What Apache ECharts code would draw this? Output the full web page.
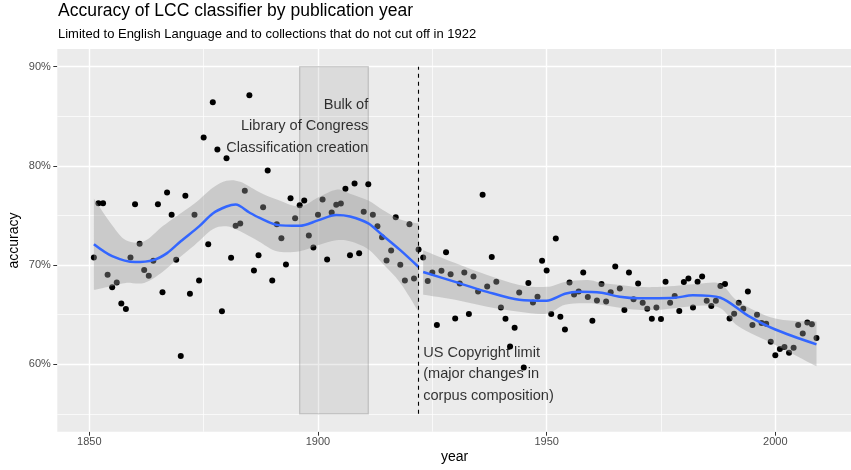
<!DOCTYPE html>
<html>
<head>
<meta charset="utf-8">
<script src="https://cdn.jsdelivr.net/npm/echarts@6/dist/echarts.min.js"></script>
<style>
html,body{margin:0;padding:0;background:#fff;}
#chart{width:851px;height:470px;}
</style>
</head>
<body>
<div id="chart"></div>
<script>
// ---- data ----
const years = [];
for (let y = 1851; y <= 2009; y++) years.push(y);
const accuracy = [
70.77,76.23,76.23,69.02,67.77,68.25,66.13,65.56,70.77,76.13,
72.14,69.49,68.92,70.43,76.13,67.27,77.31,75.07,70.53,60.83,
76.98,67.11,75.07,68.45,82.85,72.10,86.40,81.64,65.33,80.77,
70.74,73.96,74.19,77.48,87.11,69.46,71.00,75.83,79.53,68.45,
74.12,72.71,70.06,76.74,74.72,76.03,76.50,72.98,71.77,75.07,
76.61,70.56,75.30,76.07,76.20,77.68,71.00,78.22,71.20,75.37,
78.15,75.07,73.92,72.81,70.46,71.47,74.82,70.03,68.45,74.12,
68.65,71.57,70.77,68.38,69.25,63.95,69.42,71.30,69.08,64.62,
68.15,69.25,65.06,68.85,67.34,77.08,67.85,70.80,68.32,65.73,
64.59,61.80,63.69,67.24,59.66,68.18,66.23,66.81,70.43,69.46,
65.06,72.68,64.79,63.51,68.25,67.04,67.34,69.25,66.77,64.39,
66.43,68.08,66.33,67.27,69.86,67.64,65.46,69.25,66.54,68.15,
66.20,65.60,64.59,65.73,64.55,68.32,66.20,66.87,65.36,68.28,
68.65,65.73,68.32,68.85,66.40,65.86,66.40,67.88,68.08,64.62,
65.10,66.20,65.60,67.34,63.95,65.00,64.15,64.09,62.28,60.90,
61.53,61.73,61.17,61.67,63.95,63.11,64.22,64.02,62.64
];

// loess smooth, before and after 1922
const smooth1Years = [1851,1855,1860,1864,1867,1870,1874,1877,1880,1882,1885,1887,1891,1896,1900,1904,1907,1911,1914,1918,1922];
const smooth1Vals  = [72.1,70.9,70.3,70.5,71.2,72.4,73.9,75.2,75.9,76.1,75.3,74.8,74.05,73.95,74.5,75.05,74.9,74.2,73.05,71.5,69.8];
const band1Years = [1851,1855,1858,1862,1866,1869,1873,1877,1880,1883,1887,1891,1896,1900,1904,1907,1911,1914,1918,1922];
const band1Upper = [76.7,74.0,72.5,72.4,73.9,74.9,76.2,77.8,78.5,78.4,77.4,76.6,75.9,76.8,77.6,77.2,76.5,75.6,74.6,74.2];
const band1Lower = [67.5,67.9,68.2,68.2,69.3,70.5,72.0,73.6,73.9,73.4,72.4,71.4,71.4,72.0,72.5,72.4,71.6,70.2,68.2,65.3];

const smooth2Years = [1923,1930,1937,1944,1950,1954,1957,1962,1966,1970,1973,1978,1982,1988,1994,2000,2009];
const smooth2Vals  = [69.3,68.3,67.3,66.5,66.4,67.1,67.3,67.2,66.8,66.65,66.65,66.7,66.95,66.7,64.9,63.5,62.0];
const band2Years = [1923,1930,1937,1944,1950,1954,1959,1962,1966,1970,1975,1983,1988,1992,2000,2009];
const band2Upper = [71.5,70.2,69.0,68.0,67.8,68.3,68.5,68.2,68.0,67.8,67.8,68.1,68.1,66.3,64.6,64.3];
const band2Lower = [67.0,66.5,65.8,65.3,65.1,66.0,66.15,66.0,65.7,65.5,65.5,65.9,65.65,63.8,61.95,59.8];

const xTicks = [1850,1900,1950,2000];
const xMinor = [1875,1925,1975];
const yTicks = [60,70,80,90];
const yMinor = [55,65,75,85];

const rectX = [1896,1911];
const rectY = [55,90];
const copyrightYear = 1922;
const bulkLabel = 'Bulk of\nLibrary of Congress\nClassification creation';
const bulkPos = [1911, 84];
const copyLabel = 'US Copyright limit\n(major changes in\ncorpus composition)';
const copyPos = [1923, 59];

const titleText = 'Accuracy of LCC classifier by publication year';
const subtitleText = 'Limited to English Language and to collections that do not cut off in 1922';

// ---- chart ----
const FONT = "'Liberation Sans', Arial, Helvetica, sans-serif";
const chart = echarts.init(document.getElementById('chart'), null, {renderer:'canvas'});

function vline(v){ return {xAxis: v}; }
function hline(v){ return {yAxis: v}; }

// smooth path through pixel points (Catmull-Rom -> cubic bezier)
function curveSegs(pts) {
  let d = '';
  for (let i = 0; i < pts.length - 1; i++) {
    const p0 = pts[i - 1] || pts[i], p1 = pts[i], p2 = pts[i + 1], p3 = pts[i + 2] || pts[i + 1];
    const c1 = [p1[0] + (p2[0] - p0[0]) / 6, p1[1] + (p2[1] - p0[1]) / 6];
    const c2 = [p2[0] - (p3[0] - p1[0]) / 6, p2[1] - (p3[1] - p1[1]) / 6];
    d += ' C' + c1[0] + ' ' + c1[1] + ' ' + c2[0] + ' ' + c2[1] + ' ' + p2[0] + ' ' + p2[1];
  }
  return d;
}
function bandSeries(bx, bu, bl) {
  return {
    type: 'custom', coordinateSystem: 'cartesian2d', z: 4, silent: true,
    data: [[bx[0], bu[0]]],
    renderItem: function (params, api) {
      const up = bx.map((x, i) => api.coord([x, bu[i]]));
      const lo = bx.map((x, i) => api.coord([x, bl[i]])).reverse();
      const d = 'M' + up[0][0] + ' ' + up[0][1] + curveSegs(up) +
                ' L' + lo[0][0] + ' ' + lo[0][1] + curveSegs(lo) + ' Z';
      return {type: 'path', shape: {pathData: d}, style: {fill: 'rgba(153,153,153,0.4)', stroke: null}};
    }
  };
}

const option = {
  animation: false,
  backgroundColor: '#ffffff',
  textStyle: {fontFamily: FONT},
  grid: {left: 57.3, right: 0, top: 49, bottom: 38.3, show: true, backgroundColor: '#EBEBEB', borderWidth: 0, containLabel: false, outerBoundsMode: 'none'},
  xAxis: {
    type: 'value', min: 1843.0, max: 2016.55,
    axisLine: {show: false},
    axisTick: {show: true, length: 4, lineStyle: {color: '#333333', width: 1}, customValues: xTicks},
    axisLabel: {show: true, margin: 5, color: '#4D4D4D', fontSize: 11, fontFamily: FONT, customValues: xTicks, formatter: v => String(v)},
    splitLine: {show: false}
  },
  yAxis: {
    type: 'value', min: 53.2, max: 91.78,
    axisLine: {show: false},
    axisTick: {show: true, length: 4, lineStyle: {color: '#333333', width: 1}, customValues: yTicks},
    axisLabel: {show: true, margin: 6.5, color: '#4D4D4D', fontSize: 11, fontFamily: FONT, customValues: yTicks, formatter: v => v + '%'},
    splitLine: {show: false}
  },
  graphic: [
    {type: 'text', x: 58, y: 11.5, style: {text: titleText, fontSize: 17.5, fontFamily: FONT, fill: '#000', verticalAlign: 'middle', align: 'left'}},
    {type: 'text', x: 58, y: 34.7, style: {text: subtitleText, fontSize: 13, fontFamily: FONT, fill: '#000', verticalAlign: 'middle', align: 'left'}},
    {type: 'text', x: 454.5, y: 457.5, style: {text: 'year', fontSize: 14, fontFamily: FONT, fill: '#000', verticalAlign: 'middle', align: 'center'}},
    {type: 'text', x: 14, y: 240.5, rotation: Math.PI/2, style: {text: 'accuracy', fontSize: 14, fontFamily: FONT, fill: '#000', verticalAlign: 'middle', align: 'center'}}
  ],
  series: [
    { // grid lines
      type: 'line', data: [], z: 1, silent: true,
      markLine: {
        z: 1, silent: true, symbol: ['none','none'], label: {show: false}, animation: false,
        data: [
          ...xMinor.map(v => Object.assign(vline(v), {lineStyle: {color: '#ffffff', width: 0.7, type: 'solid'}})),
          ...yMinor.map(v => Object.assign(hline(v), {lineStyle: {color: '#ffffff', width: 0.7, type: 'solid'}})),
          ...xTicks.map(v => Object.assign(vline(v), {lineStyle: {color: '#ffffff', width: 1.4, type: 'solid'}})),
          ...yTicks.map(v => Object.assign(hline(v), {lineStyle: {color: '#ffffff', width: 1.4, type: 'solid'}}))
        ]
      }
    },
    { // shaded rectangle
      type: 'line', data: [], z: 2, silent: true,
      markArea: {
        z: 2, silent: true, animation: false,
        itemStyle: {color: 'rgba(128,128,128,0.15)', borderColor: 'rgba(120,120,120,0.35)', borderWidth: 1.2},
        data: [[{coord: [rectX[0], rectY[0]]}, {coord: [rectX[1], rectY[1]]}]]
      }
    },
    { // points
      type: 'scatter', z: 3, silent: true,
      symbolSize: 6, itemStyle: {color: '#000000', opacity: 1},
      data: years.map((y, i) => [y, accuracy[i]])
    },
    bandSeries(band1Years, band1Upper, band1Lower),
    bandSeries(band2Years, band2Upper, band2Lower),
    // smooth lines
    {type: 'line', z: 5, silent: true, symbol: 'none', smooth: 0.3, lineStyle: {color: '#3366FF', width: 2.5},
      data: smooth1Years.map((y, i) => [y, smooth1Vals[i]])},
    {type: 'line', z: 5, silent: true, symbol: 'none', smooth: 0.3, lineStyle: {color: '#3366FF', width: 2.5},
      data: smooth2Years.map((y, i) => [y, smooth2Vals[i]])},
    { // dashed copyright line
      type: 'line', data: [], z: 6, silent: true,
      markLine: {
        z: 6, silent: true, symbol: ['none','none'], label: {show: false}, animation: false,
        lineStyle: {color: '#000000', width: 1.1, type: [4, 4]},
        data: [[{coord: [copyrightYear, rectY[0]]}, {coord: [copyrightYear, rectY[1]]}]]
      }
    },
    { // annotations
      type: 'scatter', z: 7, silent: true, symbolSize: 0.01, itemStyle: {color: 'rgba(0,0,0,0)'},
      data: [
        {value: bulkPos, label: {show: true, position: [0, 0], formatter: bulkLabel, align: 'right', verticalAlign: 'middle', fontSize: 14.6, lineHeight: 21.5, color: '#000', fontFamily: FONT}},
        {value: copyPos, label: {show: true, position: [0, 0], formatter: copyLabel, align: 'left', verticalAlign: 'middle', fontSize: 14.6, lineHeight: 21.5, color: '#000', fontFamily: FONT}}
      ]
    }
  ]
};
chart.setOption(option);
</script>
</body>
</html>
